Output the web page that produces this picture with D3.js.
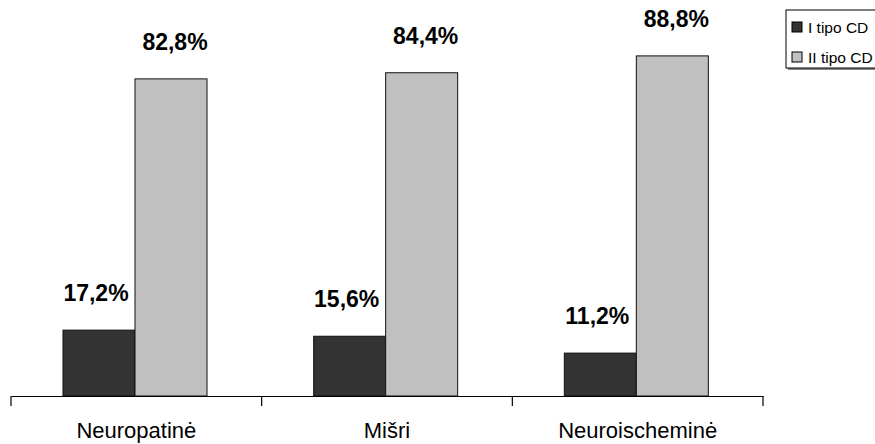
<!DOCTYPE html>
<html><head><meta charset="utf-8">
<script src="https://cdn.jsdelivr.net/npm/d3@7"></script>
<style>body{margin:0;background:#fff;} svg{display:block;}</style>
</head><body>
<svg id="chart" width="875" height="444"></svg>
<script>
const categories = ["Neuropatinė", "Mišri", "Neuroischeminė"];
const seriesNames = ["I tipo CD", "II tipo CD"];
const type1Values = [17.2, 15.6, 11.2];
const type2Values = [82.8, 84.4, 88.8];
const colors = ["#333333", "#c0c0c0"];

const svg = d3.select("#chart");
const x0 = d3.scaleBand().domain(categories).range([11, 763]).paddingInner(0).paddingOuter(0);
const x1 = d3.scaleBand().domain(seriesNames).range([52, 196]);
const y = d3.scaleLinear().domain([0, 100]).range([396, 13]);

const data = categories.map((c, i) => ({cat: c, vals: [type1Values[i], type2Values[i]]}));

const g = svg.selectAll("g.grp").data(data).enter().append("g")
  .attr("transform", d => `translate(${x0(d.cat)},0)`);

g.selectAll("rect").data(d => d.vals.map((v, j) => ({v, s: seriesNames[j], j})))
  .enter().append("rect")
  .attr("x", d => x1(d.s))
  .attr("y", d => y(d.v))
  .attr("width", x1.bandwidth())
  .attr("height", d => y(0) - y(d.v))
  .attr("fill", d => colors[d.j])
  .attr("stroke", "#111").attr("stroke-width", 1);

const fmt = v => v.toFixed(1).replace(".", ",") + "%";
g.selectAll("text.val").data(d => d.vals.map((v, j) => ({v, s: seriesNames[j], j})))
  .enter().append("text")
  .attr("x", d => x1(d.s) + x1.bandwidth() / 2 + (d.j === 1 ? 4 : -3))
  .attr("y", d => y(d.v) - 29)
  .attr("text-anchor", "middle")
  .attr("font-family", "Liberation Sans, Arial, sans-serif")
  .attr("font-weight", "bold")
  .attr("font-size", 23)
  .attr("fill", "#000")
  .text(d => fmt(d.v));

// axis
const axis = d3.axisBottom(x0).tickSize(0).tickPadding(26);
const ax = svg.append("g").attr("transform", "translate(0,396)").call(axis);
ax.select(".domain").attr("stroke", "#000").attr("stroke-width", 1.2);
ax.selectAll("text").attr("font-family", "Liberation Sans, Arial, sans-serif").attr("font-size", 22).attr("fill", "#000");
// boundary ticks
const bounds = categories.map(c => x0(c)).concat([x0.range()[1]]);
ax.selectAll("line.bt").data(bounds).enter().append("line").attr("class", "bt")
  .attr("x1", d => d).attr("x2", d => d).attr("y1", 0).attr("y2", 10)
  .attr("stroke", "#000").attr("stroke-width", 1.2);

// legend
const lg = svg.append("g");
lg.append("rect").attr("x", 788).attr("y", 12).attr("width", 100).attr("height", 58).attr("fill", "#888");
lg.append("rect").attr("x", 786).attr("y", 10).attr("width", 100).attr("height", 58)
  .attr("fill", "#fff").attr("stroke", "#000").attr("stroke-width", 1);
const li = lg.selectAll("g.li").data(seriesNames).enter().append("g")
  .attr("transform", (d, i) => `translate(792,${27 + i * 30})`);
li.append("rect").attr("x", 0).attr("y", -5).attr("width", 10).attr("height", 10)
  .attr("fill", (d, i) => colors[i]).attr("stroke", "#000").attr("stroke-width", 1);
li.append("text").attr("x", 16).attr("y", 5.5)
  .attr("font-family", "Liberation Sans, Arial, sans-serif").attr("font-size", 15.5)
  .attr("fill", "#000").text(d => d);
</script>
</body></html>
